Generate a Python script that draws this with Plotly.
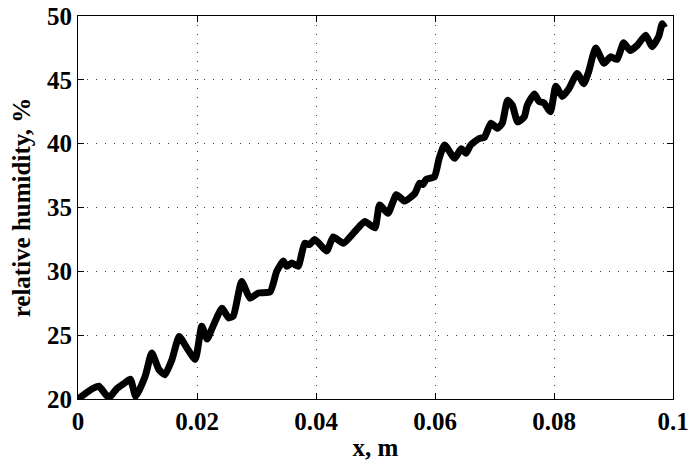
import plotly.graph_objects as go

x_vals = [0.0, 0.0024, 0.0035, 0.0052, 0.0065, 0.0077, 0.0088, 0.0097, 0.0113, 0.0124,
          0.0136, 0.0146, 0.0158, 0.0170, 0.0183, 0.0197, 0.0208, 0.0217, 0.0226, 0.0242,
          0.0253, 0.0261, 0.0275, 0.0289, 0.0303, 0.0323, 0.0334, 0.0345, 0.0351, 0.0359,
          0.0370, 0.0381, 0.0389, 0.0398, 0.0418, 0.0429, 0.0446, 0.0465, 0.0482, 0.0499,
          0.0507, 0.0521, 0.0535, 0.0549, 0.0566, 0.0574, 0.0580, 0.0585, 0.0599, 0.0607,
          0.0616, 0.0633, 0.0644, 0.0652, 0.0660, 0.0674, 0.0683, 0.0694, 0.0705, 0.0713,
          0.0722, 0.0730, 0.0739, 0.0750, 0.0755, 0.0767, 0.0775, 0.0783, 0.0794, 0.0803,
          0.0814, 0.0825, 0.0839, 0.0850, 0.0858, 0.0870, 0.0884, 0.0895, 0.0906, 0.0917,
          0.0928, 0.0940, 0.0954, 0.0965, 0.0976, 0.0982, 0.0986]
y_vals = [20.0, 20.8, 21.0, 20.1, 20.8, 21.2, 21.55, 20.2, 21.8, 23.6,
          22.3, 21.9, 23.1, 24.9, 24.0, 23.1, 25.7, 24.7, 25.6, 27.1,
          26.35, 26.5, 29.2, 27.9, 28.3, 28.4, 30.0, 30.8, 30.4, 30.65,
          30.4, 32.2, 32.1, 32.5, 31.6, 32.7, 32.2, 33.1, 33.9, 33.4,
          35.2, 34.55, 36.0, 35.5, 36.1, 36.9, 36.8, 37.2, 37.4, 38.85,
          39.9, 38.85, 39.6, 39.25, 39.9, 40.4, 40.5, 41.6, 41.2, 41.6,
          43.4, 43.0, 41.7, 42.1, 43.0, 43.9, 43.3, 43.2, 42.5, 44.5,
          43.7, 44.3, 45.5, 44.7, 45.6, 47.5, 46.3, 46.8, 46.6, 47.9,
          47.3, 47.7, 48.5, 47.6, 48.4, 49.4, 49.1]

x_ticks = [0, 0.02, 0.04, 0.06, 0.08, 0.1]
x_tick_text = ["0", "0.02", "0.04", "0.06", "0.08", "0.1"]
y_ticks = [20, 25, 30, 35, 40, 45, 50]

fig = go.Figure()
fig.add_trace(go.Scatter(x=x_vals, y=y_vals, mode="lines",
                         line=dict(color="black", width=7, shape="spline", smoothing=0.5),
                         showlegend=False))

font_family = "Liberation Serif, Times New Roman, serif"
axis_common = dict(
    showline=True, linecolor="black", linewidth=1, mirror="ticks",
    ticks="inside", ticklen=6, tickcolor="black", tickwidth=1,
    showgrid=True, gridcolor="#444", gridwidth=1, griddash="1px,8px",
    zeroline=False, automargin=False, ticklabeloverflow="allow",
    tickfont=dict(family=font_family, size=25, color="black", weight="bold"),
)

fig.update_xaxes(range=[0, 0.1], tickvals=x_ticks, ticktext=x_tick_text,
                 title=dict(text="x, m", font=dict(family=font_family, size=25, color="black", weight="bold"), standoff=4),
                 **axis_common)
fig.update_yaxes(range=[20, 50], tickvals=y_ticks,
                 title=dict(text="relative humidity, %", font=dict(family=font_family, size=25, color="black", weight="bold"), standoff=9),
                 **axis_common)

fig.update_layout(width=690, height=463, margin=dict(l=78, r=17, t=16, b=64),
                  paper_bgcolor="white", plot_bgcolor="white")

fig.write_html("out.html")
